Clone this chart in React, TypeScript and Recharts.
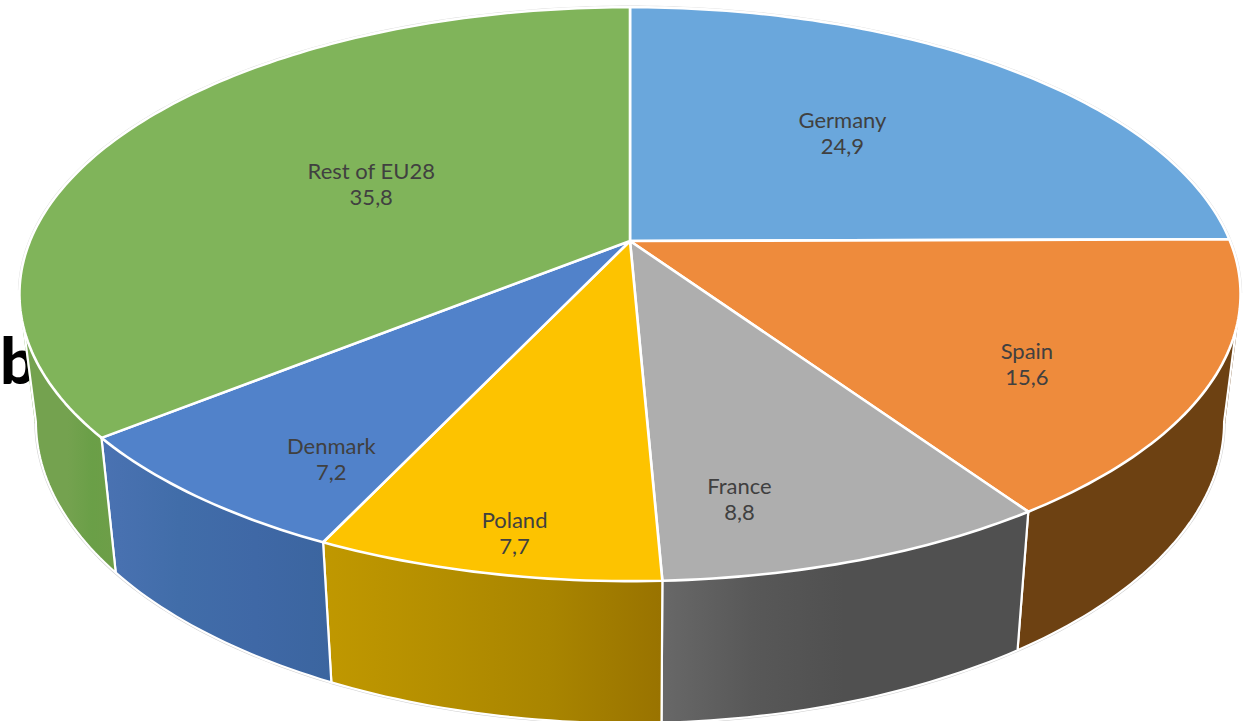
import { PieChart, Pie } from 'recharts'

const countries = ['Germany', 'Spain', 'France', 'Poland', 'Denmark', 'Rest of EU28']
const shares = [24.9, 15.6, 8.8, 7.7, 7.2, 35.8]

const topColors = ['#6AA7DC', '#EE8B3C', '#AEAEAE', '#FDC300', '#5182CA', '#80B45A']
const wallStops = [
    ['#3F6F9F', '#3F6F9F'],
    ['#6D4112', '#6D4112'],
    ['#686868', '#585858', '#505050', '#505050', '#505050'],
    ['#C09800', '#B58F00', '#A98500', '#997300'],
    ['#4A72B2', '#416DA9', '#3F68A6', '#3B659F'],
    ['#74A24F', '#74A24F', '#74A24F', '#6A9F47', '#6E9E48']
]
// x range each wall gradient runs over
const wallRanges = [
    [630, 1240],
    [1016, 1240],
    [661, 1027],
    [323, 661],
    [103, 332],
    [20, 116]
]
// label centre, moved from the point at LABEL_RADIUS of the slice's mid angle
const labelShifts = [
    [-30, 6],
    [49, 40],
    [-22, 76],
    [-33, 103],
    [-46, 70],
    [61, 15]
]

const data = countries.map((name, i) => ({ name, value: shares[i] }))

const CX = 630
const CY = 241
const RADIUS = 600
const SQUASH = 0.4619
const PERSPECTIVE = 0.1853
const LABEL_RADIUS = 0.62
// angles where the rim turns from back to front (the left and right extremes)
const RIGHT_EDGE = -10.7
const LEFT_EDGE = -169.3

const project = (angle: number, r = 1): [number, number] => {
    const a = (angle * Math.PI) / 180
    const u = r * Math.cos(a)
    const v = r * Math.sin(a)
    const d = 1 + PERSPECTIVE * v
    return [CX + (RADIUS * u) / d, CY - (RADIUS * SQUASH * v) / d]
}

const projectBottom = (angle: number): [number, number] => {
    const [x, y] = project(angle)
    return [CX + 0.973 * (x - CX), 366 + 1.05 * (y - CY)]
}

const angleSteps = (from: number, to: number) => {
    const steps = Math.max(2, Math.ceil(Math.abs(to - from)))
    const out: number[] = []
    for (let i = 0; i <= steps; i++) out.push(from + ((to - from) * i) / steps)
    return out
}

const fmt = (p: [number, number]) => `${p[0].toFixed(2)} ${p[1].toFixed(2)}`

const quadPath = (a: number, b: number) => {
    const q = [project(a), project(b), projectBottom(b), projectBottom(a)]
    let area = 0
    q.forEach((p, i) => {
        const n = q[(i + 1) % 4]
        area += p[0] * n[1] - n[0] * p[1]
    })
    if (area < 0) q.reverse()
    return 'M' + q.map(fmt).join(' L') + ' Z'
}

const WallShape = (props: any) => {
    const { startAngle, endAngle, index } = props
    const backRim = angleSteps(startAngle, endAngle)
        .filter((a) => Math.sin((a * Math.PI) / 180) >= -PERSPECTIVE)
        .map((a) => fmt(project(a)))
    const rimLine =
        backRim.length > 1 ? (
            <path d={'M' + backRim.join(' L')} fill="none" stroke="#DADADA" strokeWidth={3.2} />
        ) : null

    const from = Math.min(startAngle, RIGHT_EDGE)
    const to = Math.max(endAngle, LEFT_EDGE)
    if (from <= to) return <g>{rimLine}</g>

    const angles = angleSteps(from, to)
    const quads = angles
        .slice(1)
        .map((a, i) => quadPath(angles[i], a))
        .join(' ')
    const bottom = angles.map((a) => fmt(projectBottom(a)))
    const outline =
        'M' + [fmt(project(from)), ...bottom, fmt(project(to))].join(' L')
    const stops = wallStops[index]
    const id = `wall-${index}`
    return (
        <g>
            <defs>
                <linearGradient
                    id={id}
                    gradientUnits="userSpaceOnUse"
                    x1={wallRanges[index][0]}
                    x2={wallRanges[index][1]}
                    y1={0}
                    y2={0}
                >
                    {stops.map((c, i) => (
                        <stop key={i} offset={i / (stops.length - 1)} stopColor={c} />
                    ))}
                </linearGradient>
            </defs>
            {rimLine}
            <path d={'M' + bottom.join(' L')} fill="none" stroke="#CFCFCF" strokeWidth={3.2} />
            <path d={quads} fill={`url(#${id})`} />
            <path d={outline} fill="none" stroke="#fff" strokeWidth={2.2} strokeLinejoin="round" />
        </g>
    )
}

const TopShape = (props: any) => {
    const { startAngle, endAngle, index } = props
    const rim = angleSteps(startAngle, endAngle).map((a) => fmt(project(a)))
    return (
        <path
            d={`M${CX} ${CY} L${rim.join(' L')} Z`}
            fill={topColors[index]}
            stroke="#fff"
            strokeWidth={2.6}
            strokeLinejoin="round"
        />
    )
}

const renderLabel = (props: any) => {
    const { midAngle, name, value, index } = props
    const [x, y] = project(midAngle, LABEL_RADIUS)
    const px = x + labelShifts[index][0]
    const py = y + labelShifts[index][1]
    return (
        <text
            key={name}
            x={px}
            y={py}
            textAnchor="middle"
            fontFamily="Lato"
            fontSize={22}
            fill="#404040"
        >
            <tspan x={px} dy={-6}>
                {name}
            </tspan>
            <tspan x={px} dy={26}>
                {String(value).replace('.', ',')}
            </tspan>
        </text>
    )
}

export default function App() {
    return (
        <div
            style={{
                position: 'absolute',
                left: 0,
                top: 0,
                width: 1248,
                height: 721,
                overflow: 'hidden',
                background: '#fff'
            }}
        >
            <div
                style={{
                    position: 'absolute',
                    left: 0,
                    top: 320,
                    fontFamily: 'Lato',
                    fontWeight: 900,
                    fontSize: 64,
                    lineHeight: '80px',
                    color: '#000'
                }}
            >
                b
            </div>
            <PieChart width={1248} height={721} margin={{ top: 0, right: 0, bottom: 0, left: 0 }}>
                <Pie
                    data={data}
                    dataKey="value"
                    nameKey="name"
                    cx={CX}
                    cy={CY}
                    outerRadius={RADIUS}
                    startAngle={90}
                    endAngle={-270}
                    shape={WallShape}
                    isAnimationActive={false}
                />
                <Pie
                    data={data}
                    dataKey="value"
                    nameKey="name"
                    cx={CX}
                    cy={CY}
                    outerRadius={RADIUS}
                    startAngle={90}
                    endAngle={-270}
                    shape={TopShape}
                    label={renderLabel}
                    labelLine={false}
                    isAnimationActive={false}
                />
            </PieChart>
        </div>
    )
}
